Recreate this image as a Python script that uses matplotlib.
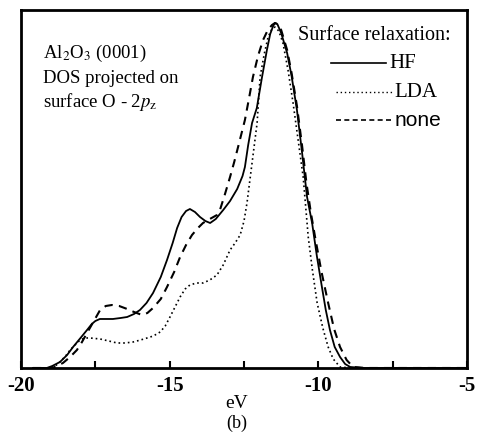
import matplotlib.pyplot as plt
import numpy as np

# energies (eV) and projected DOS (arb. units)
e_hf = [-19.6, -19.13, -18.95, -18.69, -18.45, -18.25, -18.0, -17.78, -17.62, -17.5,
        -17.35, -17.2, -16.91, -16.65, -16.43, -16.2, -16.0, -15.78, -15.56, -15.3,
        -15.09, -14.9, -14.75, -14.6, -14.45, -14.32, -14.15, -13.98, -13.8, -13.64,
        -13.45, -13.2, -12.97, -12.73, -12.55, -12.47, -12.36, -12.23, -12.07, -11.9,
        -11.73, -11.62, -11.52, -11.46, -11.38, -11.25, -11.05, -10.9, -10.72, -10.55,
        -10.38, -10.21, -10.05, -9.88, -9.75, -9.61, -9.45, -9.27, -9.1, -8.93, -8.5, -5.0]
dos_hf = [0.0, 0.0, 0.02, 0.06, 0.13, 0.21, 0.30, 0.38, 0.44, 0.47,
          0.49, 0.49, 0.49, 0.50, 0.51, 0.54, 0.58, 0.65, 0.75, 0.91,
          1.08, 1.25, 1.40, 1.51, 1.57, 1.59, 1.56, 1.51, 1.47, 1.45,
          1.49, 1.58, 1.67, 1.79, 1.92, 2.01, 2.23, 2.45, 2.60, 2.90,
          3.18, 3.34, 3.42, 3.45, 3.44, 3.35, 3.15, 2.92, 2.58, 2.16,
          1.71, 1.45, 1.12, 0.81, 0.58, 0.38, 0.21, 0.11, 0.04, 0.01, 0.0, 0.0]

e_lda = [-19.6, -19.05, -18.85, -18.69, -18.5, -18.35, -18.15, -18.01, -17.85, -17.68,
         -17.34, -17.05, -16.77, -16.5, -16.23, -15.98, -15.76, -15.55, -15.32, -15.15,
         -14.99, -14.82, -14.65, -14.48, -14.32, -14.1, -13.88, -13.65, -13.41, -13.2,
         -12.97, -12.8, -12.63, -12.5, -12.4, -12.23, -12.06, -11.96, -11.82, -11.69,
         -11.58, -11.46, -11.33, -11.19, -11.02, -10.85, -10.68, -10.51, -10.34, -10.2,
         -10.04, -9.85, -9.67, -9.5, -9.27, -8.9, -5.0]
dos_lda = [0.0, 0.0, 0.02, 0.06, 0.12, 0.18, 0.24, 0.28, 0.30, 0.30,
           0.29, 0.27, 0.25, 0.25, 0.26, 0.28, 0.30, 0.32, 0.36, 0.42,
           0.51, 0.61, 0.71, 0.79, 0.83, 0.85, 0.85, 0.88, 0.93, 1.03,
           1.18, 1.25, 1.33, 1.47, 1.65, 2.05, 2.45, 2.91, 3.14, 3.31,
           3.38, 3.41, 3.37, 3.25, 2.98, 2.65, 2.28, 1.91, 1.31, 0.98,
           0.65, 0.40, 0.21, 0.09, 0.01, 0.0, 0.0]

e_none = [-19.6, -18.95, -18.8, -18.59, -18.35, -18.12, -17.95, -17.78, -17.55, -17.34,
          -17.15, -16.94, -16.7, -16.43, -16.2, -15.93, -15.75, -15.56, -15.3, -15.09,
          -14.85, -14.65, -14.45, -14.25, -14.05, -13.88, -13.65, -13.41, -13.31, -13.15,
          -12.97, -12.83, -12.70, -12.47, -12.33, -12.2, -12.03, -11.86, -11.7, -11.56,
          -11.46, -11.38, -11.25, -11.05, -10.9, -10.72, -10.55, -10.4, -10.25, -10.11,
          -9.9, -9.67, -9.47, -9.27, -9.05, -8.83, -8.4, -5.0]
dos_none = [0.0, 0.0, 0.02, 0.05, 0.11, 0.18, 0.26, 0.35, 0.47, 0.58,
            0.62, 0.63, 0.62, 0.59, 0.56, 0.53, 0.55, 0.60, 0.69, 0.81,
            0.96, 1.11, 1.23, 1.33, 1.40, 1.45, 1.49, 1.53, 1.58, 1.73,
            1.91, 2.06, 2.21, 2.48, 2.70, 2.91, 3.12, 3.28, 3.38, 3.43,
            3.45, 3.44, 3.38, 3.18, 2.95, 2.62, 2.23, 1.85, 1.55, 1.31,
            0.97, 0.65, 0.39, 0.21, 0.08, 0.01, 0.0, 0.0]

major_ticks = [-20, -15, -10, -5]
minor_ticks = [-17.5, -12.5, -7.5]

serif = ['Liberation Serif', 'DejaVu Serif']

fig = plt.figure(figsize=(4.78, 4.36), dpi=100)
ax = fig.add_axes([0.044, 0.156, 0.933, 0.821])

ax.plot(e_hf, dos_hf, color='black', lw=1.3, ls='-')
ax.plot(e_lda, dos_lda, color='black', lw=1.2, ls=(0, (1, 1.8)))
ax.plot(e_none, dos_none, color='black', lw=1.5, ls=(0, (4, 3)))

ax.set_xlim(-20, -5)
ax.set_ylim(0, 3.58)
ax.set_yticks([])
ax.set_xticks(major_ticks)
ax.set_xticks(minor_ticks, minor=True)
ax.set_xticklabels(['-20', '-15', '-10', '-5'], family=serif, fontsize=15, fontweight='bold')
ax.tick_params(axis='x', which='both', direction='in', length=5, width=1.5, pad=6)
for s in ax.spines.values():
    s.set_linewidth(2)

# -------------------labels---------------------
ax.text(-19.25, 3.15, r'Al$_2$O$_3$ (0001)', family=serif, fontsize=13.5,
        va='center', math_fontfamily='stix')
ax.text(-19.25, 2.9, 'DOS projected on', family=serif, fontsize=13.5, va='center')
ax.text(-19.25, 2.66, r'surface O - 2$p_{\rm z}$', family=serif, fontsize=13.5,
        va='center', math_fontfamily='stix')

ax.text(-10.7, 3.33, 'Surface relaxation:', family=serif, fontsize=14.5, va='center')
ax.plot([-9.58, -7.73], [3.05, 3.05], color='black', lw=1.2, ls='-')
ax.text(-7.62, 3.05, 'HF', family=serif, fontsize=15, va='center')
ax.plot([-9.4, -7.5], [2.76, 2.76], color='black', lw=1.0, ls=(0, (1, 2)))
ax.text(-7.45, 2.76, 'LDA', family=serif, fontsize=15, va='center')
ax.plot([-9.4, -7.55], [2.48, 2.48], color='black', lw=1.2, ls=(0, (3, 2)))
ax.text(-7.45, 2.48, 'none', family=['Liberation Sans', 'DejaVu Sans'], fontsize=15,
        va='center')

fig.text(0.495, 0.075, 'eV', family=serif, fontsize=14, ha='center', va='center')
fig.text(0.495, 0.03, '(b)', family=serif, fontsize=13, ha='center', va='center')

fig.savefig('out.png', dpi=100)
